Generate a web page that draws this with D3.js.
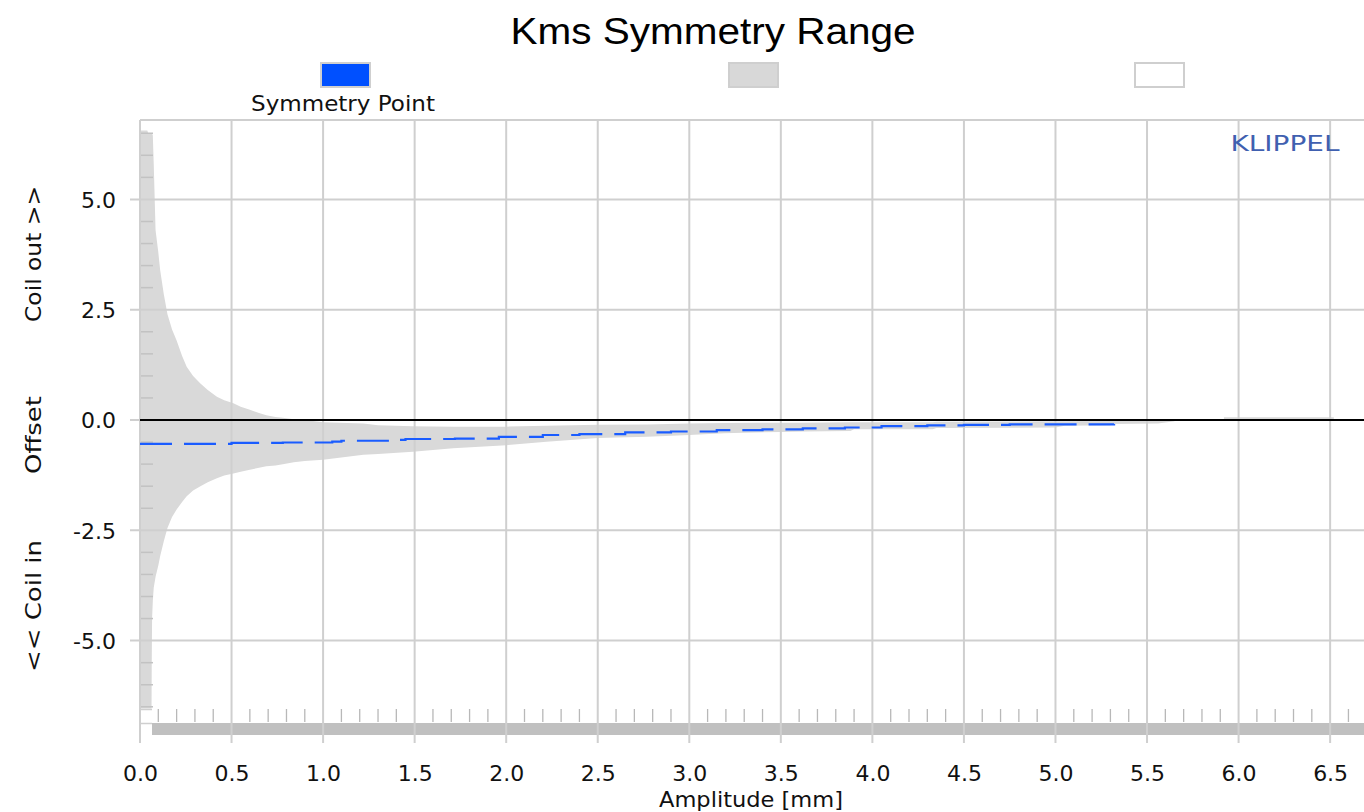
<!DOCTYPE html>
<html><head><meta charset="utf-8">
<script src="https://cdn.jsdelivr.net/npm/d3@7"></script>
<style>body{margin:0;background:#fff}svg{display:block}</style>
</head><body><svg id="c" width="1364" height="812"></svg>
<script>
const chartTitle = "Kms Symmetry Range";
const xTitle = "Amplitude [mm]";
const yTitles = ["Coil out >>", "Offset", "<< Coil in"];
const legendLabels = ["Symmetry Point", "", ""];
const xTickValues = [0,0.5,1,1.5,2,2.5,3,3.5,4,4.5,5,5.5,6,6.5];
const xTickLabels = ["0.0","0.5","1.0","1.5","2.0","2.5","3.0","3.5","4.0","4.5","5.0","5.5","6.0","6.5"];
const yTickValues = [5,2.5,0,-2.5,-5];
const yTickLabels = ["5.0","2.5","0.0","-2.5","-5.0"];

// symmetry range band (amplitude, upper, lower); null = no data
const bandAmp   = [0.000,0.040,0.045,0.063,0.064,0.066,0.070,0.075,0.085,0.100,0.110,0.130,0.150,0.175,0.200,0.230,0.255,0.290,0.330,0.370,0.420,0.460,0.510,0.550,0.600,0.650,0.690,0.740,0.780,0.840,0.900,1.000,1.220,1.300,1.490,1.710,2.000,2.220,2.500,2.770,3.000,3.190,3.500,3.620,3.880,3.900,4.330,4.350,5.000,5.050,5.300,5.320,5.560,5.650,5.800,5.920,6.520];
const bandUpper = [6.56,6.56,6.50,6.50,6.50,6.50,6.45,5.80,4.30,3.80,3.40,2.85,2.40,2.05,1.80,1.45,1.21,1.00,0.83,0.68,0.53,0.45,0.38,0.30,0.23,0.16,0.11,0.07,0.05,0.02,0.00,-0.05,-0.08,-0.12,-0.14,-0.15,-0.15,-0.13,-0.11,-0.10,-0.08,-0.07,-0.06,-0.06,-0.05,-0.05,-0.05,-0.04,-0.03,-0.03,-0.02,-0.02,-0.01,0.00,null,0.06,0.06];
const bandLower = [-6.54,-6.54,-6.54,-6.54,-5.60,-4.50,-4.10,-3.80,-3.55,-3.30,-3.09,-2.75,-2.45,-2.20,-2.03,-1.86,-1.73,-1.60,-1.50,-1.41,-1.32,-1.26,-1.21,-1.17,-1.13,-1.08,-1.05,-1.03,-1.00,-0.96,-0.93,-0.90,-0.79,-0.77,-0.72,-0.64,-0.57,-0.49,-0.41,-0.38,-0.34,-0.30,-0.27,-0.26,-0.25,-0.21,-0.21,-0.18,-0.17,-0.13,-0.12,-0.09,-0.08,-0.03,null,0.00,0.00];

// symmetry point
const symAmp    = [0.00,0.50,0.78,1.05,1.10,1.40,1.45,1.72,1.96,2.20,2.40,2.65,2.90,3.15,3.40,3.62,3.85,4.05,4.30,4.50,4.75,5.00,5.32];
const symOffset = [-0.54,-0.52,-0.51,-0.49,-0.47,-0.45,-0.43,-0.42,-0.38,-0.34,-0.32,-0.28,-0.26,-0.23,-0.21,-0.19,-0.17,-0.14,-0.12,-0.11,-0.10,-0.10,-0.09];

const svg = d3.select("#c");
const L = 140, R = 1364, T = 120, B = 709;
const x = d3.scaleLinear().domain([0, 6.685]).range([L, R]);
const y = d3.scaleLinear().domain([-6.55, 6.8]).range([B, T]);
const gridCol = "#cfcfcf";
const FONT = "DejaVu Sans, Verdana, sans-serif";

// band
const band = bandAmp.map((a,i)=>({a, hi: bandUpper[i], lo: bandLower[i]}));
svg.append("path").datum(band)
  .attr("fill", "#d9d9d9")
  .attr("d", d3.area().defined(d=>d.hi!==null).x(d=>x(d.a)).y0(d=>y(d.lo)).y1(d=>y(d.hi)));

// bottom bar
svg.append("rect").attr("x", 152).attr("y", 723).attr("width", R-152).attr("height", 12).attr("fill", "#c0c0c0");
svg.append("line").attr("x1", L).attr("x2", 152).attr("y1", 709.5).attr("y2", 709.5).attr("stroke", "#cfcfcf").attr("stroke-width", 1.5);
svg.append("line").attr("x1", L).attr("x2", 152).attr("y1", 723.5).attr("y2", 723.5).attr("stroke", "#cfcfcf").attr("stroke-width", 1.5);

// minor x ticks
const minor = d3.range(1, 67).map(i=>i/10).filter(v=>Math.abs(v*2-Math.round(v*2))>1e-6);
svg.append("g").selectAll("line").data(minor).join("line")
  .attr("x1", d=>x(d)).attr("x2", d=>x(d)).attr("y1", 709).attr("y2", 722)
  .attr("stroke", "#b8b8b8").attr("stroke-width", 1.3);

// minor y ticks (inside, left)
const minorY = d3.range(-13, 14).map(i=>i/2).filter(v=>v>-6.55 && v<6.8 && Math.abs(v%2.5)>1e-6);
svg.append("g").selectAll("line").data(minorY).join("line")
  .attr("x1", L).attr("x2", L+13).attr("y1", d=>y(d)).attr("y2", d=>y(d))
  .attr("stroke", "#c2c2c2").attr("stroke-width", 1.5);

// vertical gridlines
svg.append("g").selectAll("line").data(xTickValues).join("line")
  .attr("x1", d=>x(d)).attr("x2", d=>x(d)).attr("y1", T).attr("y2", 743)
  .attr("stroke", gridCol).attr("stroke-width", 2);
// horizontal gridlines
svg.append("g").selectAll("line").data(yTickValues).join("line")
  .attr("x1", 130).attr("x2", R).attr("y1", d=>y(d)).attr("y2", d=>y(d))
  .attr("stroke", gridCol).attr("stroke-width", 2);
// frame
svg.append("line").attr("x1", L).attr("x2", R).attr("y1", T).attr("y2", T).attr("stroke", gridCol).attr("stroke-width", 2);

// zero line
svg.append("line").attr("x1", L).attr("x2", R).attr("y1", y(0)).attr("y2", y(0)).attr("stroke", "#000").attr("stroke-width", 2);

// symmetry point line
const sym = symAmp.map((a,i)=>({a, v: symOffset[i]}));
svg.append("path").datum(sym)
  .attr("fill", "none").attr("stroke", "#1a5cff").attr("stroke-width", 2.2)
  .attr("stroke-dasharray", "32,12")
  .attr("d", d3.line().curve(d3.curveStepAfter).x(d=>x(d.a)).y(d=>y(d.v)));

// x axis labels
const xAxis = d3.axisBottom(x).tickValues(xTickValues).tickSize(0).tickPadding(0)
  .tickFormat((d,i)=>xTickLabels[i]);
const gx = svg.append("g").attr("transform", "translate(0,765)").call(xAxis);
gx.select(".domain").remove();
gx.selectAll("text").attr("font-family", FONT).attr("font-size", 22).attr("fill", "#111").attr("dy", "0.71em");

// y axis labels
const yAxis = d3.axisLeft(y).tickValues(yTickValues).tickSize(0).tickPadding(0)
  .tickFormat((d,i)=>yTickLabels[i]);
const gy = svg.append("g").attr("transform", "translate(116,0)").call(yAxis);
gy.select(".domain").remove();
gy.selectAll("text").attr("font-family", FONT).attr("font-size", 22).attr("fill", "#111").attr("dy", "0.36em");

// titles
svg.append("text").attr("x", 713).attr("y", 44).attr("text-anchor", "middle")
  .attr("font-family", "Liberation Sans, Arial, sans-serif").attr("font-size", 37).attr("fill", "#000")
  .attr("textLength", 405).attr("lengthAdjust", "spacingAndGlyphs").text(chartTitle);
svg.append("text").attr("x", 751).attr("y", 807).attr("text-anchor", "middle")
  .attr("font-family", FONT).attr("font-size", 22).attr("fill", "#111")
  .attr("textLength", 184).attr("lengthAdjust", "spacingAndGlyphs").text(xTitle);

const yT = [{t: yTitles[0], c: 254, w: 136}, {t: yTitles[1], c: 435, w: 78}, {t: yTitles[2], c: 606, w: 132}];
svg.append("g").selectAll("text").data(yT).join("text")
  .attr("transform", d=>`translate(41,${d.c}) rotate(-90)`)
  .attr("text-anchor", "middle").attr("font-family", FONT).attr("font-size", 22).attr("fill", "#111")
  .attr("textLength", d=>d.w).attr("lengthAdjust", "spacingAndGlyphs").text(d=>d.t);

// legend
const legend = [{x: 320, fill: "#0050ff"}, {x: 728, fill: "#d8d8d8"}, {x: 1134, fill: "#ffffff"}];
svg.append("g").selectAll("rect").data(legend).join("rect")
  .attr("x", d=>d.x+1).attr("y", 63).attr("width", 49).attr("height", 24)
  .attr("fill", d=>d.fill).attr("stroke", "#cfcfcf").attr("stroke-width", 2);
svg.append("text").attr("x", 343).attr("y", 111).attr("text-anchor", "middle")
  .attr("font-family", FONT).attr("font-size", 21).attr("fill", "#111")
  .attr("textLength", 184).attr("lengthAdjust", "spacingAndGlyphs").text(legendLabels[0]);

// watermark
svg.append("text").attr("x", 1285).attr("y", 151).attr("text-anchor", "middle")
  .attr("font-family", FONT).attr("font-size", 21).attr("fill", "#4060b0")
  .attr("textLength", 109).attr("lengthAdjust", "spacingAndGlyphs").text("KLIPPEL");
</script></body></html>
